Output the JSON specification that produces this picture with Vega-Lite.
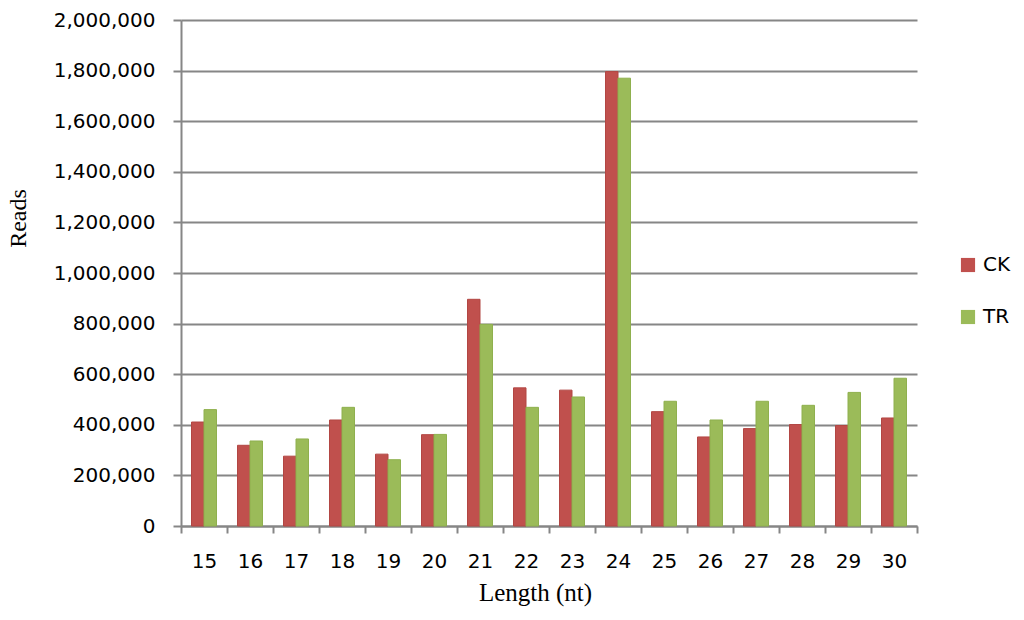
{
  "$schema": "https://vega.github.io/schema/vega-lite/v6.json",
  "autosize": {"type": "none"},
  "padding": {"left": 181, "top": 20, "right": 107, "bottom": 94},
  "width": 736,
  "height": 506,
  "background": "#ffffff",
  "config": {"view": {"stroke": null}},
  "data": {"values": [
    {"len": "15", "group": "CK", "reads": 411000}, {"len": "15", "group": "TR", "reads": 460000},
    {"len": "16", "group": "CK", "reads": 319000}, {"len": "16", "group": "TR", "reads": 336000},
    {"len": "17", "group": "CK", "reads": 276000}, {"len": "17", "group": "TR", "reads": 344000},
    {"len": "18", "group": "CK", "reads": 419000}, {"len": "18", "group": "TR", "reads": 469000},
    {"len": "19", "group": "CK", "reads": 284000}, {"len": "19", "group": "TR", "reads": 262000},
    {"len": "20", "group": "CK", "reads": 361000}, {"len": "20", "group": "TR", "reads": 362000},
    {"len": "21", "group": "CK", "reads": 896000}, {"len": "21", "group": "TR", "reads": 797000},
    {"len": "22", "group": "CK", "reads": 546000}, {"len": "22", "group": "TR", "reads": 469000},
    {"len": "23", "group": "CK", "reads": 537000}, {"len": "23", "group": "TR", "reads": 510000},
    {"len": "24", "group": "CK", "reads": 1796000}, {"len": "24", "group": "TR", "reads": 1770000},
    {"len": "25", "group": "CK", "reads": 452000}, {"len": "25", "group": "TR", "reads": 493000},
    {"len": "26", "group": "CK", "reads": 352000}, {"len": "26", "group": "TR", "reads": 419000},
    {"len": "27", "group": "CK", "reads": 385000}, {"len": "27", "group": "TR", "reads": 493000},
    {"len": "28", "group": "CK", "reads": 401000}, {"len": "28", "group": "TR", "reads": 477000},
    {"len": "29", "group": "CK", "reads": 397000}, {"len": "29", "group": "TR", "reads": 528000},
    {"len": "30", "group": "CK", "reads": 427000}, {"len": "30", "group": "TR", "reads": 584000}
  ]},
  "mark": {"type": "bar", "strokeWidth": 1},
  "encoding": {
    "x": {
      "field": "len", "type": "nominal", "sort": null,
      "scale": {"paddingInner": 0, "paddingOuter": 0},
      "axis": {
        "title": "Length (nt)", "labelAngle": 0,
        "domainColor": "#868686", "domainWidth": 2,
        "tickColor": "#868686", "tickWidth": 2, "tickSize": 7, "tickBand": "extent",
        "labelFont": "DejaVu Sans", "labelFontSize": 20, "labelColor": "#000000", "labelPadding": 18,
        "titleFont": "Liberation Serif", "titleFontSize": 25, "titleFontWeight": "normal", "titleColor": "#000000",
        "titleBaseline": "middle", "titleAlign": "center", "titleX": 354, "titleY": 66
      }
    },
    "xOffset": {"field": "group", "type": "nominal", "scale": {"paddingInner": 0, "paddingOuter": 0.84}},
    "y": {
      "field": "reads", "type": "quantitative",
      "scale": {"domain": [0, 2000000], "nice": false},
      "axis": {
        "title": "Reads", "format": ",d",
        "values": [0, 200000, 400000, 600000, 800000, 1000000, 1200000, 1400000, 1600000, 1800000, 2000000],
        "domainColor": "#868686", "domainWidth": 2,
        "tickColor": "#868686", "tickWidth": 2, "tickSize": 8,
        "gridColor": "#868686", "gridWidth": 2, "grid": true,
        "labelFont": "DejaVu Sans", "labelFontSize": 20, "labelColor": "#000000", "labelPadding": 18,
        "titleFont": "Liberation Serif", "titleFontSize": 24, "titleFontWeight": "normal", "titleColor": "#000000",
        "titleBaseline": "middle", "titleX": -163, "titleY": 198
      }
    },
    "color": {
      "field": "group", "type": "nominal",
      "scale": {"domain": ["CK", "TR"], "range": ["#C0504D", "#9BBB59"]},
      "legend": {
        "title": null, "orient": "none", "legendX": 777, "legendY": 235,
        "symbolType": "square", "symbolSize": 200, "symbolStrokeWidth": 0,
        "labelFont": "DejaVu Sans", "labelFontSize": 20, "labelColor": "#000000",
        "rowPadding": 32, "labelOffset": 5
      }
    },
    "stroke": {
      "field": "group", "type": "nominal",
      "scale": {"domain": ["CK", "TR"], "range": ["#B24643", "#8FB04E"]},
      "legend": null
    }
  }
}
